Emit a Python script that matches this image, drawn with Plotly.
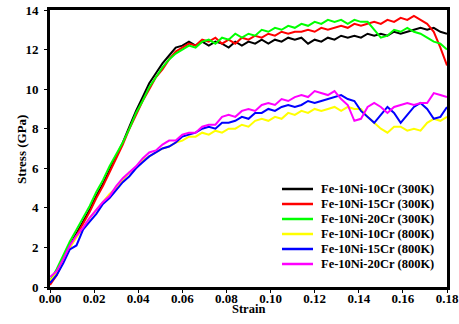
import plotly.graph_objects as go

strain = [0.000, 0.003, 0.006, 0.009, 0.012, 0.015, 0.018, 0.021, 0.024, 0.027,
          0.030, 0.033, 0.036, 0.039, 0.042, 0.045, 0.048, 0.051, 0.054, 0.057,
          0.060, 0.063, 0.066, 0.069, 0.072, 0.075, 0.078, 0.081, 0.084, 0.087,
          0.090, 0.093, 0.096, 0.099, 0.102, 0.105, 0.108, 0.111, 0.114, 0.117,
          0.120, 0.123, 0.126, 0.129, 0.132, 0.135, 0.138, 0.141, 0.144, 0.147,
          0.150, 0.153, 0.156, 0.159, 0.162, 0.165, 0.168, 0.171, 0.174, 0.177,
          0.180]

ni10cr10_300 = [0.2, 0.7, 1.4, 2.1, 2.7, 3.3, 3.9, 4.6, 5.2, 5.9,
                6.6, 7.3, 8.1, 8.9, 9.6, 10.3, 10.8, 11.3, 11.7, 12.1,
                12.2, 12.4, 12.2, 12.4, 12.2, 12.4, 12.3, 12.1, 12.4, 12.2,
                12.4, 12.3, 12.5, 12.3, 12.5, 12.4, 12.6, 12.5, 12.6, 12.3,
                12.5, 12.4, 12.6, 12.5, 12.7, 12.6, 12.7, 12.6, 12.8, 12.7,
                12.8, 12.7, 12.9, 12.8, 12.9, 13.0, 13.1, 13.0, 13.1, 12.9,
                12.8]
ni10cr15_300 = [0.1, 0.6, 1.3, 2.0, 2.6, 3.2, 3.8, 4.5, 5.1, 5.8,
                6.5, 7.2, 8.0, 8.7, 9.4, 10.0, 10.6, 11.0, 11.5, 11.9,
                12.1, 12.3, 12.2, 12.5, 12.4, 12.6, 12.3, 12.5, 12.3, 12.6,
                12.5, 12.7, 12.6, 12.8, 12.7, 12.9, 12.8, 12.9, 12.9, 13.0,
                12.9, 13.1, 13.0, 13.1, 13.2, 13.1, 13.3, 13.2, 13.3, 13.4,
                13.3, 13.5, 13.4, 13.6, 13.5, 13.7, 13.5, 13.3, 12.9, 12.1,
                11.2]
ni10cr20_300 = [0.3, 0.9, 1.6, 2.3, 2.9, 3.5, 4.1, 4.8, 5.4, 6.1,
                6.7, 7.3, 8.0, 8.8, 9.4, 10.1, 10.6, 11.1, 11.5, 11.8,
                12.0, 12.2, 12.1, 12.4, 12.5, 12.3, 12.6, 12.5, 12.8, 12.6,
                12.8, 12.7, 13.0, 12.9, 13.1, 13.0, 13.2, 13.1, 13.3, 13.2,
                13.4, 13.3, 13.5, 13.4, 13.5, 13.3, 13.5, 13.4, 13.4, 13.0,
                12.6, 12.7, 13.0, 12.9, 13.1, 12.9, 12.8, 12.6, 12.4, 12.3,
                12.0]
ni10cr10_800 = [0.3, 0.7, 1.3, 2.0, 2.5, 3.0, 3.5, 3.9, 4.3, 4.7,
                5.0, 5.4, 5.8, 6.0, 6.4, 6.6, 6.8, 7.0, 7.1, 7.3,
                7.4, 7.6, 7.6, 7.8, 7.7, 7.9, 7.8, 8.0, 8.0, 8.2,
                8.1, 8.4, 8.5, 8.4, 8.6, 8.5, 8.8, 8.7, 8.9, 8.8,
                9.0, 8.9, 9.0, 9.1, 8.9, 9.1, 9.0, 9.0, 8.6, 8.3,
                8.0, 7.8, 8.1, 8.1, 7.9, 8.0, 7.9, 8.3, 8.5, 8.4,
                8.6]
ni10cr15_800 = [0.2, 0.6, 1.2, 1.9, 2.1, 2.9, 3.3, 3.7, 4.2, 4.5,
                4.9, 5.3, 5.6, 6.0, 6.3, 6.6, 6.8, 7.0, 7.1, 7.3,
                7.6, 7.7, 7.8, 8.0, 8.1, 8.0, 8.3, 8.3, 8.4, 8.6,
                8.5, 8.8, 8.8, 9.0, 8.9, 9.1, 9.2, 9.1, 9.2, 9.4,
                9.3, 9.4, 9.5, 9.6, 9.7, 9.5, 9.4, 8.9, 8.6, 8.3,
                8.7, 9.1, 8.8, 8.3, 8.7, 9.1, 9.3, 9.0, 8.5, 8.6,
                9.1]
ni10cr20_800 = [0.5, 0.8, 1.4, 2.1, 2.6, 3.0, 3.5, 3.9, 4.3, 4.6,
                5.1, 5.5, 5.8, 6.1, 6.5, 6.8, 6.9, 7.2, 7.4, 7.4,
                7.7, 7.8, 7.8, 8.1, 8.2, 8.2, 8.6, 8.7, 8.6, 8.9,
                9.0, 8.9, 9.2, 9.3, 9.2, 9.5, 9.4, 9.6, 9.7, 9.6,
                9.9, 9.8, 9.7, 9.9, 9.5, 9.2, 8.4, 8.5, 9.1, 9.3,
                9.1, 8.8, 9.1, 9.2, 9.3, 9.2, 9.3, 9.3, 9.8, 9.7,
                9.6]

names = ["Fe-10Ni-10Cr (300K)", "Fe-10Ni-15Cr (300K)", "Fe-10Ni-20Cr (300K)",
         "Fe-10Ni-10Cr (800K)", "Fe-10Ni-15Cr (800K)", "Fe-10Ni-20Cr (800K)"]
series = [ni10cr10_300, ni10cr15_300, ni10cr20_300,
          ni10cr10_800, ni10cr15_800, ni10cr20_800]
colors = ["#000000", "#FF0000", "#00FF00", "#FFFF00", "#0000FF", "#FF00FF"]

y_ticks = [0, 2, 4, 6, 8, 10, 12, 14]
x_ticks = [0.00, 0.02, 0.04, 0.06, 0.08, 0.10, 0.12, 0.14, 0.16, 0.18]

font_family = "Liberation Serif"
W, H = 459, 324
# plot area in page pixels: x 50..447, y 10..287
ML, MT = 50, 10
MR, MB = W - 447, H - 287
PW, PH = W - ML - MR, H - MT - MB


def px_to_paper(px, py):
    # page pixel -> paper fraction
    return (px - ML) / PW, (H - MB - py) / PH


fig = go.Figure()
for name, ys, c in zip(names, series, colors):
    fig.add_trace(go.Scatter(x=strain, y=ys, mode="lines", name=name,
                             line=dict(color=c, width=2), showlegend=False,
                             hoverinfo="skip"))

axis_common = dict(showline=True, linecolor="black", linewidth=3, mirror=True,
                   ticks="outside", ticklen=3, tickwidth=1, tickcolor="black",
                   showgrid=False, zeroline=False, automargin=False,
                   ticklabeloverflow="allow",
                   tickfont=dict(family=font_family, size=13, color="black", weight="bold"))

fig.update_xaxes(range=[0, 0.18], tickvals=x_ticks, tickformat=".2f",
                 ticklabelstandoff=-6, **axis_common)
fig.update_yaxes(range=[0, 14], tickvals=y_ticks, ticklabelstandoff=3, **axis_common)

# axis titles
tx, ty = px_to_paper(248, 309)
fig.add_annotation(x=tx, y=ty, xref="paper", yref="paper", text="Strain",
                   showarrow=False, xanchor="center", yanchor="middle",
                   font=dict(family=font_family, size=12.5, color="black", weight="bold"))
tx, ty = px_to_paper(21, 150)
fig.add_annotation(x=tx, y=ty, xref="paper", yref="paper", text="Stress (GPa)",
                   showarrow=False, xanchor="center", yanchor="middle", textangle=-90,
                   font=dict(family=font_family, size=13, color="black", weight="bold"))

# legend drawn as line samples + labels (15 px row pitch, as in the reference)
for i, (name, c) in enumerate(zip(names, colors)):
    row_y = 189 + 15 * i
    x0, y0 = px_to_paper(282, row_y)
    x1, _ = px_to_paper(313, row_y)
    xt, _ = px_to_paper(319, row_y)
    fig.add_shape(type="line", xref="paper", yref="paper", x0=x0, x1=x1, y0=y0, y1=y0,
                  line=dict(color=c, width=2.5))
    fig.add_annotation(x=xt, y=y0, xref="paper", yref="paper", text=name,
                       showarrow=False, xanchor="left", yanchor="middle",
                       font=dict(family=font_family, size=12.5, color="black", weight="bold"))

fig.update_layout(
    width=W, height=H,
    margin=dict(l=ML, r=MR, t=MT, b=MB, autoexpand=False),
    paper_bgcolor="white", plot_bgcolor="white",
    showlegend=False, hovermode=False,
)

# place the figure at the page origin (no default body margin), no mode bar
fig.write_html("out.html", config={"displayModeBar": False},
               post_script="document.body.style.margin='0';")
